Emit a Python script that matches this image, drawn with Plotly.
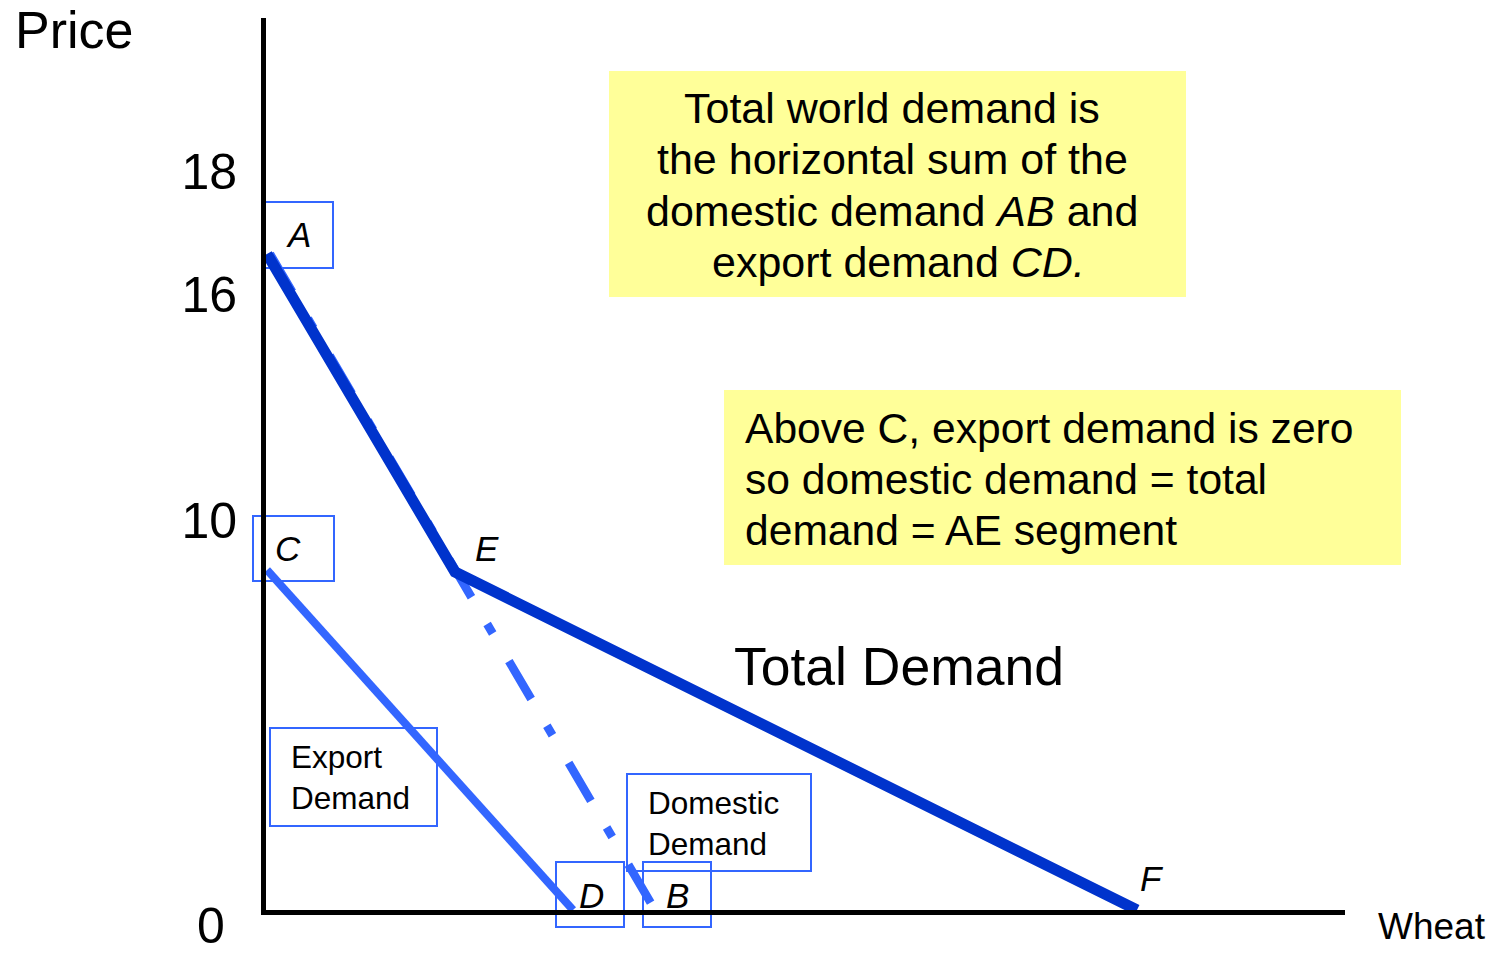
import plotly.graph_objects as go

# ---------------- data (schematic units) ----------------
total_q = [0.1, 18.9, 87.1]      # A -> E -> F  (total world demand)
total_p = [65.6, 33.8, 0.0]
domestic_q = [0.4, 38.9]         # A -> B  (domestic demand)
domestic_p = [65.6, 0.0]
export_q = [0.1, 30.7]           # C -> D  (export demand)
export_p = [34.0, 0.0]

price_tick_text = ["18", "16", "10"]
price_tick_pos = [73.85, 61.55, 38.95]

box1_lines = ["Total world demand is",
              "the horizontal sum of the",
              "domestic demand <i>AB</i> and",
              "export demand <i>CD.</i>"]
box2_lines = ["Above C, export demand is zero",
              "so domestic demand = total",
              "demand = AE segment"]

# ---------------- layout helpers ----------------
W, H = 1497, 957
ML, MR, MT, MB = 266, 152, 18, 47
PW, PH = W - ML - MR, H - MT - MB
PB = H - MB                     # pixel row of price 0
SCALE = 10.0                    # pixels per schematic unit
XR = PW / SCALE
YR = PH / SCALE


def PX(px):
    return (px - ML) / PW


def PY(py):
    return (PB - py) / PH


FONT = "Liberation Sans, Arial, sans-serif"
DARK = "#0033CC"
LIGHT = "#3366FF"

fig = go.Figure()

fig.add_trace(go.Scatter(x=domestic_q, y=domestic_p, mode="lines",
                         line=dict(color=LIGHT, width=8.5, dash="44px,31px,11px,32px"),
                         hoverinfo="skip"))
fig.add_trace(go.Scatter(x=export_q, y=export_p, mode="lines",
                         line=dict(color=LIGHT, width=8),
                         hoverinfo="skip"))
fig.add_trace(go.Scatter(x=total_q, y=total_p, mode="lines",
                         line=dict(color=DARK, width=11),
                         hoverinfo="skip"))

shapes = []
# yellow note boxes
for (x0, y0, x1, y1) in [(609, 71, 1186, 297), (724, 390, 1401, 565)]:
    shapes.append(dict(type="rect", xref="paper", yref="paper",
                       x0=PX(x0), x1=PX(x1), y0=PY(y1), y1=PY(y0),
                       fillcolor="#FFFF99", line=dict(width=0), layer="below"))
# blue label boxes
for (x0, y0, x1, y1) in [(264, 202, 333, 268), (253, 516, 334, 581),
                         (556, 862, 624, 927), (643, 862, 711, 927),
                         (270, 728, 437, 826), (627, 774, 811, 871)]:
    shapes.append(dict(type="rect", xref="paper", yref="paper",
                       x0=PX(x0), x1=PX(x1), y0=PY(y1), y1=PY(y0),
                       fillcolor="rgba(0,0,0,0)", line=dict(color=LIGHT, width=2),
                       layer="below"))

ann = []


def text(px, py, s, size, xanchor="center", align="center", yanchor="middle"):
    ann.append(dict(x=PX(px), y=PY(py), xref="paper", yref="paper", text=s,
                    showarrow=False, xanchor=xanchor, yanchor=yanchor, align=align,
                    font=dict(family=FONT, size=size, color="black")))


# point labels
for lab, px, py in [("A", 298, 235), ("C", 288, 548), ("E", 487, 548),
                    ("D", 591, 895), ("B", 677, 895), ("F", 1152, 878)]:
    text(px, py, "<i>%s</i>" % lab, 35)

text(74, 30, "Price", 52)
text(1432, 927, "Wheat", 37)
text(211, 956, "0", 50, yanchor="bottom")
text(899, 666, "Total Demand", 53.5)
text(289, 777, "Export<br>Demand", 31.5, xanchor="left", align="left")
text(646, 823, "Domestic<br>Demand", 31.5, xanchor="left", align="left")

for i, (s, cx) in enumerate(zip(box1_lines, [892, 892, 892, 898])):
    text(cx, 108 + i * 51.3, s, 43)
for i, s in enumerate(box2_lines):
    text(743, 428 + i * 51, s, 42.6, xanchor="left", align="left")

fig.update_layout(
    width=W, height=H,
    margin=dict(l=ML, r=MR, t=MT, b=MB, pad=0),
    paper_bgcolor="white", plot_bgcolor="white",
    showlegend=False, hovermode=False,
    shapes=shapes, annotations=ann,
    xaxis=dict(range=[0, XR], showgrid=False, zeroline=False, showticklabels=False,
               ticks="", showline=True, linecolor="black", linewidth=5, fixedrange=True),
    yaxis=dict(range=[0, YR], showgrid=False, zeroline=False, ticks="",
               tickvals=price_tick_pos, ticktext=price_tick_text,
               tickfont=dict(family=FONT, size=50, color="black"),
               ticklabelstandoff=14,
               showline=True, linecolor="black", linewidth=5, fixedrange=True),
)

fig.write_html("out.html", config={"displayModeBar": False},
               post_script="document.body.style.margin='0';document.body.style.overflow='hidden';")
